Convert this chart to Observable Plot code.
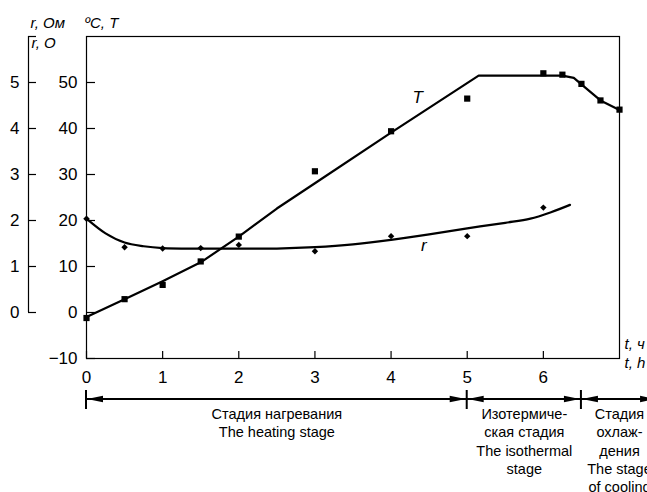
<!DOCTYPE html>
<html>
<head>
<meta charset="utf-8">
<script src="https://cdn.jsdelivr.net/npm/d3@7"></script>
<script src="https://cdn.jsdelivr.net/npm/@observablehq/plot@0.6"></script>
<style>
  html, body { margin: 0; padding: 0; background: #fff; overflow: hidden; }
  #chart svg { display: block; overflow: hidden; }
</style>
</head>
<body>
<div id="chart"></div>
<script>
// Temperature T, °C: measured points
const tempHours = [0, 0.5, 1, 1.5, 2, 3, 4, 5, 6, 6.25, 6.5, 6.75, 7];
const tempValues = [-1.2, 2.9, 6.0, 11.1, 16.5, 30.7, 39.4, 46.5, 52.0, 51.7, 49.7, 46.1, 44.1];
// Temperature T, °C: fitted curve
const tempCurveHours = [0, 0.5, 1, 1.5, 2, 2.5, 3, 4, 5.15, 6.25, 6.4, 6.5, 6.75, 7];
const tempCurveValues = [-1.0, 2.9, 6.8, 10.9, 16.5, 22.6, 28.1, 39.1, 51.5, 51.5, 51.0, 49.6, 46.1, 44.0];

// Resistance r, Ohm: measured points
const resHours = [0, 0.5, 1, 1.5, 2, 3, 4, 5, 6];
const resValues = [2.04, 1.42, 1.39, 1.40, 1.47, 1.33, 1.66, 1.66, 2.28];
// Resistance r, Ohm: fitted curve
const resCurveHours = [0, 0.25, 0.5, 0.75, 1, 1.5, 2, 2.5, 3, 3.5, 4, 4.5, 5, 5.5, 5.83, 6.1, 6.35];
const resCurveValues = [2.04, 1.72, 1.52, 1.44, 1.40, 1.39, 1.39, 1.39, 1.42, 1.48, 1.58, 1.70, 1.83, 1.95, 2.04, 2.18, 2.34];

// Axis ticks
const hourTicks = [0, 1, 2, 3, 4, 5, 6];
const tempTicks = [-10, 0, 10, 20, 30, 40, 50];
const resTicks = [0, 1, 2, 3, 4, 5];

// Process stages along the time axis
const stageStart = [0, 5, 6.5];
const stageEnd = [5, 6.5, 7.5];
const stageText = [
  "Стадия нагревания\nThe heating stage",
  "Изотермиче-\nская стадия\nThe isothermal\nstage",
  "Стадия\nохлаж-\nдения\nThe stage\nof cooling"
];

// One ohm of r is drawn as ten degrees on the shared vertical scale
const OHM = 10;

const FONT = "'Liberation Sans', Arial, sans-serif";

const temp = tempHours.map((t, i) => ({t, v: tempValues[i]}));
const tempCurve = tempCurveHours.map((t, i) => ({t, v: tempCurveValues[i]}));
const res = resHours.map((t, i) => ({t, v: resValues[i] * OHM}));
const resCurve = resCurveHours.map((t, i) => ({t, v: resCurveValues[i] * OHM}));
const stages = stageStart.map((s, i) => ({s, e: stageEnd[i], mid: (s + stageEnd[i]) / 2, text: stageText[i]}));

// Double-headed stage arrows under the time axis
function stageBar(index, scales, values, dim) {
  const y = dim.height - dim.marginBottom + 41;
  const g = d3.create("svg:g").attr("fill", "#000").attr("stroke", "#000");
  for (const st of stages) {
    const x1 = scales.x(st.s), x2 = scales.x(st.e);
    g.append("line").attr("x1", x1).attr("x2", x2).attr("y1", y).attr("y2", y).attr("stroke-width", 2);
    g.append("path").attr("stroke", "none").attr("d", `M${x1 + 1},${y}l16,-3.3v6.6z`);
    g.append("path").attr("stroke", "none").attr("d", `M${x2 - 1},${y}l-16,-3.3v6.6z`);
    g.append("line").attr("x1", x1).attr("x2", x1).attr("y1", y - 9).attr("y2", y + 10).attr("stroke-width", 2);
  }
  return g.node();
}

const chart = Plot.plot({
  width: 647,
  height: 492,
  marginLeft: 86,
  marginRight: 28,
  marginTop: 36,
  marginBottom: 134,
  style: {fontFamily: FONT, fontSize: "17px", color: "#000", background: "#fff"},
  x: {domain: [0, 7]},
  y: {domain: [-10, 60]},
  marks: [
    Plot.frame({stroke: "#000", strokeWidth: 1.2}),
    // temperature axis
    Plot.axisY({ticks: tempTicks, tickSize: -9, label: null, strokeWidth: 1.2}),
    // resistance axis, set apart to the left
    Plot.ruleX([0], {y1: 0, y2: 60, dx: -58, stroke: "#000", strokeWidth: 1.2}),
    Plot.axisY({ticks: [...resTicks, 6].map(d => d * OHM), tickFormat: d => d / OHM > 5 ? "" : String(d / OHM), tickSize: -8, dx: -58, label: null, strokeWidth: 1.2}),
    // time axis
    Plot.axisX({ticks: hourTicks, tickFormat: d => String(d), tickSize: -7, tickPadding: 19, label: null, strokeWidth: 1.2}),
    // axis titles
    Plot.text(["r, Ом"], {frameAnchor: "top-left", lineAnchor: "middle", dx: -56, dy: -13, textAnchor: "start", fontStyle: "italic", fontSize: 15}),
    Plot.text(["ºC, T"], {frameAnchor: "top-left", lineAnchor: "middle", dx: -2, dy: -13, textAnchor: "start", fontStyle: "italic", fontSize: 15}),
    Plot.text(["r, O"], {frameAnchor: "top-left", lineAnchor: "middle", dx: -55, dy: 7, textAnchor: "start", fontStyle: "italic", fontSize: 15}),
    Plot.text(["t, ч"], {frameAnchor: "bottom-right", lineAnchor: "middle", dx: 5, dy: -14, textAnchor: "start", fontStyle: "italic", fontSize: 15}),
    Plot.text(["t, h"], {frameAnchor: "bottom-right", lineAnchor: "middle", dx: 5, dy: 5, textAnchor: "start", fontStyle: "italic", fontSize: 15}),
    // curves
    Plot.line(tempCurve, {x: "t", y: "v", stroke: "#000", strokeWidth: 2.2, curve: "linear"}),
    Plot.line(resCurve, {x: "t", y: "v", stroke: "#000", strokeWidth: 2.2, curve: "catmull-rom"}),
    // measured points
    Plot.dot(temp, {x: "t", y: "v", symbol: "square", r: 3.5, fill: "#000", stroke: "none"}),
    Plot.dot(res, {x: "t", y: "v", symbol: "diamond2", r: 2.9, fill: "#000", stroke: "none"}),
    // curve labels
    Plot.text(["T"], {x: 4.35, y: 46.7, fontStyle: "italic", fontSize: 17}),
    Plot.text(["r"], {x: 4.43, y: 14.6, fontStyle: "italic", fontSize: 17}),
    // stages
    stageBar,
    Plot.text(stages, {x: "mid", text: "text", frameAnchor: "bottom", dy: 48, lineAnchor: "top", lineHeight: 1.25, fontSize: 14.5})
  ]
});

document.getElementById("chart").appendChild(chart);
</script>
</body>
</html>
